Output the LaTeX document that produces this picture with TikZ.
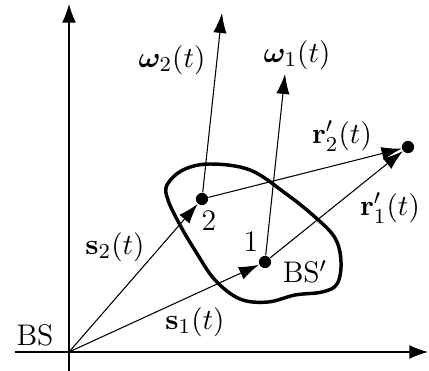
\documentclass[tikz,border=0pt]{standalone}
\usepackage{amsmath}
\usepackage{amssymb}
\usepackage{bm}
\usetikzlibrary{arrows.meta}

\begin{document}
\begin{tikzpicture}[
    x=0.0132cm, y=-0.0132cm,
    font=\fontsize{11.2}{13}\selectfont,
    dot/.style={circle, fill=black, inner sep=0pt, minimum size=4.6pt},
    vec/.style={-{Latex[length=7.5pt, width=5pt]}, thin},
    axis/.style={-{Latex[length=7pt, width=5.2pt]}, thin},
    lbl/.style={inner sep=0pt}
]
    \useasboundingbox (0,0) rectangle (429,371);

    % Axes
    \coordinate (O) at (69,352);
    \coordinate (xstart) at (15,352);
    \coordinate (xend) at (428,352);
    \coordinate (ystart) at (69,371);
    \coordinate (yend) at (69,4);
    \draw[axis] (xstart) -- (xend);
    \draw[axis] (ystart) -- (yend);

    % Body BS'
    \draw[line width=1.3pt] plot[smooth cycle, tension=0.6] coordinates {
        (210,164) (183,170) (167,185) (168,200) (180,225) (196,252)
        (215,280) (240,299) (268,302) (295,295) (322,292) (337,284)
        (341,262) (335,238) (315,217) (285,193) (250,170)};

    % Points
    \node[dot] (p1) at (265,262) {};
    \node[dot] (p2) at (202,199) {};
    \node[dot] (pr) at (408,147) {};
    \coordinate (w1) at (285,74);
    \coordinate (w2) at (222,13);

    % Vectors
    \draw[vec] (O) -- (p1);
    \draw[vec] (O) -- (p2);
    \draw[vec] (p1) -- (pr);
    \draw[vec] (p2) -- (pr);
    \draw[vec] (p1) -- (w1);
    \draw[vec] (p2) -- (w2);

    % Labels
    \node[lbl] (bs) at (35,335) {BS};
    \node[lbl] (bsp) at (305,272) {BS$'$};
    \node[lbl] (n1) at (251,242) {1};
    \node[lbl] (n2) at (209,221) {2};
    \node[lbl] (s1) at (195,322) {$\mathbf{s}_1(t)$};
    \node[lbl] (s2) at (115,247) {$\mathbf{s}_2(t)$};
    \node[lbl] (r1) at (390,208) {$\mathbf{r}'_1(t)$};
    \node[lbl] (r2) at (342,136) {$\mathbf{r}'_2(t)$};
    \node[lbl] (om1) at (297,55) {$\boldsymbol{\omega}_1(t)$};
    \node[lbl] (om2) at (172,60) {$\boldsymbol{\omega}_2(t)$};
\end{tikzpicture}
\end{document}
